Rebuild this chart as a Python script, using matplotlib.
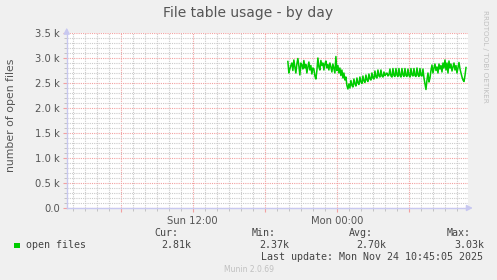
import datetime as dt
import matplotlib
matplotlib.use("Agg")
import matplotlib.pyplot as plt
import matplotlib.dates as mdates
from matplotlib.ticker import MultipleLocator, FuncFormatter

# ---- data -------------------------------------------------------------
title = "File table usage - by day"
ylabel = "number of open files"
series_name = "open files"
start_time = dt.datetime(2025, 11, 23, 19, 55)
step_minutes = 5
view_start = dt.datetime(2025, 11, 23, 1, 30)
view_end = dt.datetime(2025, 11, 24, 10, 55)
open_files = [
    2930, 2700, 2780, 2850, 2900, 2750, 2960, 2820, 2700, 2880, 2990, 2840, 2660,
    2900, 2860, 2780, 2950, 2800, 2870, 2700, 2820, 2920, 2760, 2850, 2680, 2800,
    2780, 2640, 2580, 2750, 3000, 2820, 2760, 2950, 2850, 2900, 2760, 2880, 2940,
    2800, 2870, 2760, 2900, 2820, 2720, 2880, 2790, 2700, 3030,
    2750, 2850, 2700, 2800, 2650, 2760, 2600, 2700, 2560, 2620, 2450, 2380,
    2480, 2400, 2550, 2450, 2420, 2580, 2480, 2440, 2600, 2500, 2470, 2620, 2520,
    2490, 2640, 2540, 2510, 2660, 2560, 2530, 2680, 2580, 2560, 2700, 2600, 2580,
    2740, 2620, 2600, 2760, 2640, 2620,
    2760, 2640, 2620, 2720, 2650, 2680, 2700, 2640, 2660, 2780, 2640, 2620, 2790,
    2650, 2630, 2790, 2660, 2630, 2790, 2650, 2620, 2790, 2660, 2630, 2790, 2650,
    2630, 2780, 2650, 2620, 2790, 2660, 2640, 2790, 2650, 2630, 2800, 2660, 2630,
    2790, 2650, 2640, 2780,
    2600, 2480, 2370, 2560, 2700, 2520, 2600,
    2750, 2860, 2700, 2800, 2880, 2750, 2820, 2700, 2880, 2780, 2850, 2720, 2900,
    2800, 2960, 2760, 2900, 2700, 2940, 2800, 2880, 2740, 2820, 2900, 2760, 2850,
    2700, 2800, 2910, 2780, 2700, 2620, 2560, 2530, 2650, 2810,
]
legend_cols = ["Cur:", "Min:", "Avg:", "Max:"]
legend_vals = ["2.81k", "2.37k", "2.70k", "3.03k"]
last_update = "Last update: Mon Nov 24 10:45:05 2025"
footer = "Munin 2.0.69"
side_text = "RRDTOOL / TOBI OETIKER"
y_max = 3500

times = [start_time + dt.timedelta(minutes=step_minutes * i) for i in range(len(open_files))]

# ---- figure -----------------------------------------------------------
W, H = 497, 280
fig = plt.figure(figsize=(W / 100, H / 100), dpi=100, facecolor="#F0F0F0")

def px(x, y):
    return x / W, 1 - y / H

left, right, top, bottom = 66.7, 468, 33, 208
ax = fig.add_axes([left / W, 1 - bottom / H, (right - left) / W, (bottom - top) / H])
ax.set_facecolor("white")

ax.plot(times, open_files, color="#00CC00", lw=1.1, zorder=5)

ax.set_xlim(view_start, view_end)
ax.set_ylim(0, y_max)

ax.yaxis.set_major_locator(MultipleLocator(500))
ax.yaxis.set_minor_locator(MultipleLocator(100))
ax.yaxis.set_major_formatter(FuncFormatter(lambda v, p: "0.0" if v == 0 else f"{v/1000:.1f} k"))

ax.xaxis.set_major_locator(mdates.HourLocator(byhour=[0, 6, 12, 18]))
ax.xaxis.set_minor_locator(mdates.HourLocator())

def xfmt(v, p):
    d = mdates.num2date(v)
    if d.hour in (0, 12):
        return d.strftime("%a %H:%M")
    return ""
ax.xaxis.set_major_formatter(FuncFormatter(xfmt))

ax.grid(which="minor", color="#CACACA", linestyle=(0, (1, 1)), lw=0.8)
ax.grid(which="major", color="#F2A0A0", linestyle=(0, (1, 1)), lw=0.8)
ax.set_axisbelow(True)

for s in ("top", "right"):
    ax.spines[s].set_visible(False)
for s in ("left", "bottom"):
    ax.spines[s].set_color("#C8C8F0")
    ax.spines[s].set_linewidth(1)

ax.tick_params(which="major", colors="#F2A0A0", length=3, width=0.8,
               labelcolor="#555555", labelsize=7.2)
ax.tick_params(which="minor", colors="#BBBBBB", length=2, width=0.6)
ax.tick_params(axis="y", pad=2)
ax.tick_params(axis="x", pad=3)

# axis arrows
arrow = dict(arrowstyle="-|>,head_length=0.35,head_width=0.18", color="#C8C8F0",
             lw=1, shrinkA=0, shrinkB=0)
ax.annotate("", xy=(1.012, 0), xytext=(1.0, 0), xycoords="axes fraction",
            arrowprops=arrow, annotation_clip=False)
ax.annotate("", xy=(0, 1.03), xytext=(0, 1.0), xycoords="axes fraction",
            arrowprops=arrow, annotation_clip=False)

# texts
fig.text(*px(248, 13), title, ha="center", va="center", fontsize=10, color="#555555")
fig.text(*px(11, 115), ylabel, ha="center", va="center", rotation=90,
         fontsize=7.8, color="#555555")
fig.text(*px(485, 56), side_text, ha="center", va="center", rotation=270,
         fontsize=5.2, color="#C0C0C0")

mono = dict(family="DejaVu Sans Mono", fontsize=7.2, color="#444444", va="center")
fig.patches.append(plt.Rectangle(px(14, 248), 6 / W, 5.5 / H, transform=fig.transFigure,
                                 facecolor="#00CC00", edgecolor="none"))
fig.text(*px(26.5, 245), series_name, ha="left", **mono)
label_right = [177, 275, 372, 470]
val_right = [190.5, 288, 385.5, 483]
for lab, val, lr, vr in zip(legend_cols, legend_vals, label_right, val_right):
    fig.text(*px(lr + 1, 232.5), lab, ha="right", **mono)
    fig.text(*px(vr + 1, 245), val, ha="right", **mono)
fig.text(*px(483, 257), last_update, ha="right", **mono)
fig.text(*px(249, 269.5), footer, ha="center", va="center", fontsize=5.5, color="#C0C0C0")

fig.savefig("out.png", dpi=100, facecolor=fig.get_facecolor())
